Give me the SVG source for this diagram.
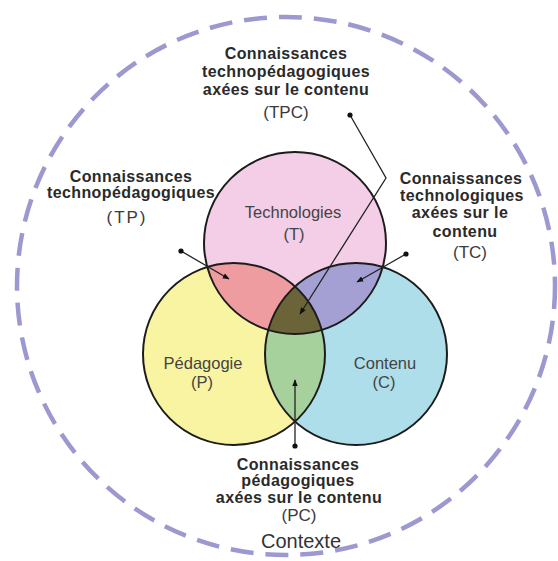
<svg xmlns="http://www.w3.org/2000/svg" width="558" height="561" viewBox="0 0 558 561">
<style>
.bg{fill:#ffffff}
.ctx{fill:none;stroke:#9c98d0;stroke-width:4.5;stroke-dasharray:23 12}
.ring{fill:none;stroke:#1c1c1c;stroke-width:2}
.lbl{font-family:"Liberation Sans",Arial,sans-serif;font-weight:bold;font-size:16px;fill:#2a2a2a;text-anchor:middle;letter-spacing:0.4px}
.abbr{font-family:"Liberation Sans",Arial,sans-serif;font-size:17px;fill:#3a3a3a;text-anchor:middle}
.cl{font-family:"Liberation Sans",Arial,sans-serif;font-size:16.5px;fill:#444;text-anchor:middle}
.ctxt{font-family:"Liberation Sans",Arial,sans-serif;font-size:20px;fill:#333;text-anchor:middle}
.conn{fill:none;stroke:#222;stroke-width:1.3}
.dot{fill:#111}
</style>
<defs>
<clipPath id="clipT"><circle cx="295" cy="243" r="91"/></clipPath>
<clipPath id="clipP"><circle cx="234" cy="354" r="91"/></clipPath>
<marker id="arr" viewBox="0 0 10 10" refX="9" refY="5" markerWidth="7" markerHeight="7" orient="auto" markerUnits="userSpaceOnUse">
<path d="M0,1 L10,5 L0,9 z" fill="#111"/>
</marker>
</defs>
<rect class="bg" x="0" y="0" width="558" height="561"/>
<g id="contexte">
<circle class="ctx" cx="286" cy="286" r="269"/>
<text class="ctxt" x="301" y="548">Contexte</text>
</g>
<g id="technologies">
<circle cx="295" cy="243" r="91" fill="#f3cee6"/>
</g>
<g id="pedagogie">
<circle cx="234" cy="354" r="91" fill="#f8f4a2"/>
</g>
<g id="contenu">
<circle cx="356" cy="354" r="91" fill="#aedeea"/>
</g>
<g id="tp-zone"><circle cx="234" cy="354" r="91" fill="#ee9ca0" clip-path="url(#clipT)"/></g>
<g id="tc-zone"><circle cx="356" cy="354" r="91" fill="#a4a0d4" clip-path="url(#clipT)"/></g>
<g id="pc-zone"><circle cx="356" cy="354" r="91" fill="#a6d09c" clip-path="url(#clipP)"/></g>
<g id="tpc-zone" clip-path="url(#clipT)"><circle cx="356" cy="354" r="91" fill="#6b6438" clip-path="url(#clipP)"/></g>
<g id="rings">
<circle class="ring" cx="295" cy="243" r="91"/>
<circle class="ring" cx="234" cy="354" r="91"/>
<circle class="ring" cx="356" cy="354" r="91"/>
</g>
<g id="circle-labels">
<text class="cl" x="293" y="218">Technologies</text>
<text class="cl" x="294" y="240">(T)</text>
<text class="cl" x="203" y="369">Pédagogie</text>
<text class="cl" x="202" y="388">(P)</text>
<text class="cl" x="385" y="369">Contenu</text>
<text class="cl" x="384" y="388">(C)</text>
</g>
<g id="label-tpc">
<text class="lbl" x="286" y="59">Connaissances</text>
<text class="lbl" x="286" y="77">technopédagogiques</text>
<text class="lbl" x="286" y="95">axées sur le contenu</text>
<text class="abbr" x="286" y="118">(TPC)</text>
</g>
<g id="label-tp">
<text class="lbl" x="131" y="182">Connaissances</text>
<text class="lbl" x="131" y="198">technopédagogiques</text>
<text class="abbr" x="127" y="223" letter-spacing="2">(TP)</text>
</g>
<g id="label-tc">
<text class="lbl" x="461" y="184">Connaissances</text>
<text class="lbl" x="462" y="201">technologiques</text>
<text class="lbl" x="460" y="218">axées sur le</text>
<text class="lbl" x="465" y="237">contenu</text>
<text class="abbr" x="470" y="258">(TC)</text>
</g>
<g id="label-pc">
<text class="lbl" x="298" y="470">Connaissances</text>
<text class="lbl" x="298" y="486">pédagogiques</text>
<text class="lbl" x="299" y="503">axées sur le contenu</text>
<text class="abbr" x="299" y="521">(PC)</text>
</g>
<g id="connectors">
<polyline class="conn" points="350,115 386,178 300,314" marker-end="url(#arr)"/>
<line class="conn" x1="181" y1="251" x2="229" y2="279" marker-end="url(#arr)"/>
<line class="conn" x1="406" y1="254" x2="357" y2="282" marker-end="url(#arr)"/>
<line class="conn" x1="295" y1="446" x2="295" y2="380" marker-end="url(#arr)"/>
<circle class="dot" cx="350" cy="115" r="2.6"/>
<circle class="dot" cx="181" cy="251" r="2.6"/>
<circle class="dot" cx="406" cy="254" r="2.6"/>
<circle class="dot" cx="295" cy="446" r="2.6"/>
</g>
</svg>
